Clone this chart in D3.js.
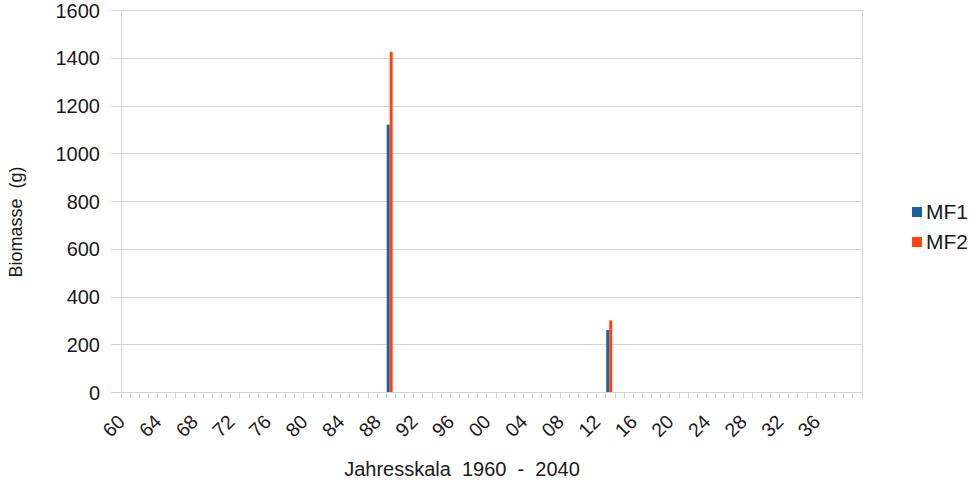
<!DOCTYPE html>
<html lang="de">
<head>
  <meta charset="UTF-8">
  <title>Biomasse MF1 / MF2</title>
  <script src="https://cdnjs.cloudflare.com/ajax/libs/d3/7.8.5/d3.min.js"></script>
  <style>
    body { margin: 0; background: #fff; }
    text { font-family: "Liberation Sans", Arial, sans-serif; fill: #1a1a1a; }
    .grid line { stroke: #d4d4d4; stroke-width: 1px; shape-rendering: crispEdges; }
  </style>
</head>
<body>
  <svg width="980" height="484"></svg>
  <script>
    // Kategorien: Jahre 1960 - 2040
    var years = d3.range(1960, 2041)
    var tickYears = [1960, 1964, 1968, 1972, 1976, 1980, 1984, 1988, 1992, 1996,
                     2000, 2004, 2008, 2012, 2016, 2020, 2024, 2028, 2032, 2036]
    var series = ["MF1", "MF2"]
    var colors = ["#1b5fa4", "#ff420e"]
    // nur Jahre mit Messwerten
    var measuredYears = [1989, 2013]
    var mf1 = [1120, 260]
    var mf2 = [1425, 300]
    var yTicks = [0, 200, 400, 600, 800, 1000, 1200, 1400, 1600]

    var svg = d3.select("svg")
    var plotLeft = 120.5, plotRight = 861.5, plotTop = 10, plotBottom = 392

    var x = d3.scaleBand().domain(years).range([plotLeft, plotRight]).padding(0)
    var y = d3.scaleLinear().domain([0, 1600]).range([plotBottom, plotTop])
    // Balken liegen leicht links in der Jahresspalte
    var xs = d3.scaleBand().domain(series)
               .range([x.bandwidth() * 0.1, x.bandwidth() * 0.75])

    // horizontale Gitterlinien
    svg.append("g").attr("class", "grid")
       .selectAll("line").data(yTicks).enter().append("line")
       .attr("x1", plotLeft - 10).attr("x2", plotRight)
       .attr("y1", d => Math.round(y(d)) + 0.5).attr("y2", d => Math.round(y(d)) + 0.5)

    // Achsenlinien
    svg.append("g").attr("class", "grid")
       .selectAll("line").data([plotLeft, plotRight]).enter().append("line")
       .attr("x1", d => Math.round(d) + 0.5).attr("x2", d => Math.round(d) + 0.5)
       .attr("y1", plotTop).attr("y2", plotBottom + 6)

    // kleine Striche unter der x-Achse
    svg.append("g").attr("class", "grid")
       .selectAll("line").data(years.slice(1)).enter().append("line")
       .attr("x1", d => Math.round(x(d)) + 0.5).attr("x2", d => Math.round(x(d)) + 0.5)
       .attr("y1", plotBottom).attr("y2", plotBottom + 6)

    // y-Beschriftung
    svg.append("g").selectAll("text").data(yTicks).enter().append("text")
       .attr("x", 100).attr("y", d => y(d) + 7.5)
       .attr("text-anchor", "end").attr("font-size", "20px")
       .text(d => d)

    // x-Beschriftung, schräg
    svg.append("g").selectAll("text").data(tickYears).enter().append("text")
       .attr("transform", d => "translate(" + (x(d) + x.bandwidth() / 2 + 1) + "," + (plotBottom + 31) + ") rotate(-45)")
       .attr("text-anchor", "end").attr("font-size", "19.5px")
       .text(d => String(d).slice(2))

    // Balken
    var rows = measuredYears.map((yr, i) => ({ year: yr, values: [mf1[i], mf2[i]] }))
    var grp = svg.append("g").selectAll("g").data(rows).enter().append("g")
       .attr("transform", d => "translate(" + x(d.year) + ",0)")
    grp.selectAll("rect").data(d => d.values.map((v, j) => ({ key: series[j], value: v, c: colors[j] })))
       .enter().append("rect")
       .attr("x", d => xs(d.key)).attr("width", xs.bandwidth())
       .attr("y", d => y(d.value)).attr("height", d => plotBottom - y(d.value))
       .attr("fill", d => d.c)

    // Achsentitel
    svg.append("text")
       .attr("transform", "translate(22,222) rotate(-90)")
       .attr("text-anchor", "middle").attr("font-size", "18px")
       .attr("xml:space", "preserve")
       .text("Biomasse  (g)")
    svg.append("text")
       .attr("x", 462).attr("y", 476)
       .attr("text-anchor", "middle").attr("font-size", "20px")
       .attr("xml:space", "preserve")
       .text("Jahresskala  1960  -  2040")

    // Legende
    var leg = svg.append("g").selectAll("g").data(series).enter().append("g")
       .attr("transform", (d, i) => "translate(912," + (207 + i * 30) + ")")
    leg.append("rect").attr("width", 10).attr("height", 10)
       .attr("fill", (d, i) => colors[i])
    leg.append("text").attr("x", 14).attr("y", 12)
       .attr("font-size", "21px").text(d => d)
  </script>
</body>
</html>
